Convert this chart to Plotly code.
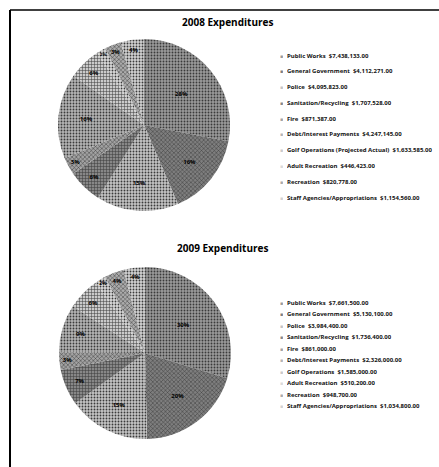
import plotly.graph_objects as go

# ---- data ----
categories = [
    "Public Works", "General Government", "Police", "Sanitation/Recycling", "Fire",
    "Debt/Interest Payments", "Golf Operations (Projected Actual)", "Adult Recreation",
    "Recreation", "Staff Agencies/Appropriations",
]
categories_2009 = [
    "Public Works", "General Government", "Police", "Sanitation/Recycling", "Fire",
    "Debt/Interest Payments", "Golf Operations", "Adult Recreation",
    "Recreation", "Staff Agencies/Appropriations",
]
values_2008 = [7438133, 4112271, 4095823, 1707528, 871387,
               4247145, 1633585, 446423, 820778, 1154560]
values_2009 = [7661500, 5130100, 3984400, 1736400, 861000,
               2326000, 1585000, 510200, 948700, 1034800]
titles = ["2008 Expenditures", "2009 Expenditures"]

grays = ["#9a9a9a", "#7e7e7e", "#c4c4c4", "#878787", "#a2a2a2",
         "#b4b4b4", "#cacaca", "#dadada", "#ababab", "#d2d2d2"]
shapes_pat = [".", "x", ".", "+", "x", ".", "+", ".", "x", "."]

FONT = "Open Sans"

def money(v):
    return "${:,.2f}".format(v)

W, H = 439, 467
fig = go.Figure()

pie_specs = [
    dict(vals=values_2008, cats=categories, cx=144, cy=125, d=172),
    dict(vals=values_2009, cats=categories_2009, cx=145, cy=353, d=172),
]
for spec in pie_specs:
    x0 = (spec["cx"] - spec["d"] / 2) / W
    x1 = (spec["cx"] + spec["d"] / 2) / W
    y0 = 1 - (spec["cy"] + spec["d"] / 2) / H
    y1 = 1 - (spec["cy"] - spec["d"] / 2) / H
    labels = [f"{c}  {money(v)}" for c, v in zip(spec["cats"], spec["vals"])]
    fig.add_trace(go.Pie(
        labels=labels, values=spec["vals"], sort=False, direction="clockwise",
        rotation=0, domain=dict(x=[x0, x1], y=[y0, y1]),
        marker=dict(colors=grays, line=dict(width=0),
                    pattern=dict(shape=shapes_pat, fgcolor="#3a3a3a",
                                 bgcolor=grays, size=3, solidity=0.3)),
        texttemplate="%{percent:.0%}", textposition="inside",
        insidetextorientation="horizontal",
        textfont=dict(family=FONT, size=6, color="#000000", weight="bold"),
        showlegend=False, hoverinfo="label+percent",
    ))

annotations = []
# titles
title_pos = [(227, 22), (222, 248)]
for t, (tx, ty) in zip(titles, title_pos):
    annotations.append(dict(text=f"<b>{t}</b>", x=tx / W, y=1 - ty / H,
                            xref="paper", yref="paper", showarrow=False,
                            xanchor="center", yanchor="middle",
                            font=dict(family=FONT, size=10, color="#000")))

# manual legends
legend_specs = [
    dict(vals=values_2008, cats=categories, y0=55, dy=15.8),
    dict(vals=values_2009, cats=categories_2009, y0=302, dy=11.5),
]
for spec in legend_specs:
    for i, (c, v) in enumerate(zip(spec["cats"], spec["vals"])):
        yy = 1 - (spec["y0"] + i * spec["dy"]) / H
        annotations.append(dict(text="■", x=281 / W, y=yy, xref="paper", yref="paper",
                                showarrow=False, xanchor="center", yanchor="middle",
                                height=7, borderpad=0,
                                font=dict(family=FONT, size=5, color=grays[i])))
        annotations.append(dict(text=f"<b>{c}  {money(v)}</b>", x=286 / W, y=yy,
                                xref="paper", yref="paper", showarrow=False,
                                xanchor="left", yanchor="middle", height=9,
                                borderpad=0,
                                font=dict(family=FONT, size=6, color="#111")))

fig.update_layout(
    width=W, height=H, margin=dict(l=0, r=0, t=0, b=0),
    paper_bgcolor="white", plot_bgcolor="white",
    annotations=annotations,
    shapes=[
        dict(type="line", xref="paper", yref="paper", x0=10 / W, x1=10 / W,
             y0=0, y1=1 - 10 / H, line=dict(color="#000", width=2)),
        dict(type="line", xref="paper", yref="paper", x0=10 / W, x1=1,
             y0=1 - 10 / H, y1=1 - 10 / H, line=dict(color="#000", width=1.5)),
    ],
)

fig.write_html("out.html", config={"displayModeBar": False},
               post_script="document.body.style.margin='0';")
